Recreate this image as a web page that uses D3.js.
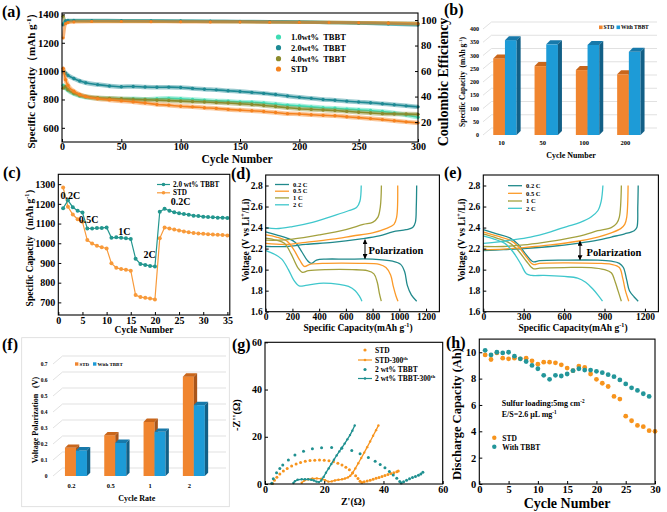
<!DOCTYPE html>
<html><head><meta charset="utf-8">
<script src="https://cdn.jsdelivr.net/npm/d3@7"></script>
<style>
body{margin:0;background:#fff}
svg{display:block}
text{font-family:"Liberation Serif","Times New Roman",serif;font-weight:bold}
</style></head>
<body><svg id="c" width="667" height="512"></svg>
<script>
// ================= DATA =================
// (a) long cycling
const cyclesA = [1,3,5,10,15,20,30,40,50,60,70,80,90,100,110,120,130,140,150,160,170,180,190,200,210,220,230,240,250,260,270,280,290,300];
const cap1wt = [900,880,865,840,825,815,808,805,803,805,802,805,808,805,800,795,790,787,782,780,775,768,760,755,748,742,738,732,728,722,715,705,690,675];
const cap2wt = [1000,985,970,948,930,918,905,895,890,892,888,886,887,884,878,872,868,862,856,850,843,835,825,815,808,800,795,788,782,777,770,763,755,748];
const cap4wt = [880,890,870,845,830,822,812,808,805,800,798,795,792,788,785,782,778,775,770,765,758,750,742,735,730,726,722,716,710,705,700,698,697,695];
const capSTD = [1020,940,900,858,835,820,805,797,790,783,775,765,760,752,748,742,737,730,725,720,715,708,700,698,692,688,685,678,672,665,658,650,642,635];
const cyclesCE = [1,3,5,10,25,50,75,100,125,150,175,200,225,250,275,300];
const ce1wt = [97,99,99.3,99.4,99.3,99.2,99.1,99.0,98.9,98.7,98.5,98.3,98.0,97.5,97.2,96.5];
const ce2wt = [96,99.5,99.8,99.8,99.7,99.6,99.5,99.4,99.2,99.0,98.8,98.5,98.0,97.5,96.8,96.0];
const ce4wt = [103,99,99.2,99.3,99.2,99.1,99.0,98.9,98.8,98.7,98.6,98.4,98.3,98.0,97.8,97.5];
const ceSTD = [86,97,98,98.5,98.8,98.8,98.7,98.6,98.5,98.5,98.3,98.2,98.0,97.8,97.5,97.0];
const legendA = ["1.0wt%  TBBT","2.0wt%  TBBT","4.0wt%  TBBT","STD"];

// (b) bars
const catB = ["10","50","100","200"];
const bSTD = [289,260,245,229];
const bTBBT = [358,342,340,314];

// (c) rate
const cyclesC = [1,2,3,4,5,6,7,8,9,10,11,12,13,14,15,16,17,18,19,20,21,22,23,24,25,26,27,28,29,30,31,32,33,34,35];
const cTBBT = [1178,1218,1183,1165,1156,1075,1075,1077,1078,1080,1028,1030,1028,1025,1022,922,895,890,885,882,1160,1175,1165,1158,1152,1148,1145,1140,1138,1135,1133,1132,1130,1130,1128];
const cSTD = [1283,1185,1146,1122,1109,1016,999,987,980,974,898,876,869,866,861,737,727,723,720,715,1025,1080,1075,1070,1065,1060,1056,1052,1050,1048,1046,1044,1043,1042,1040];
const rateLabels = [["0.2C",2.5,1225],["0.5C",6.3,1105],["1C",13.7,1040],["2C",18.9,925],["0.2C",25.3,1195]];

// (d) STD charge/discharge  [capacity, voltage]
const rates = ["0.2 C","0.5 C","1 C","2 C"];
const dDis02 = [[0,2.36],[80,2.33],[160,2.30],[220,2.26],[270,2.17],[310,2.09],[340,2.06],[380,2.09],[450,2.10],[600,2.10],[800,2.10],[950,2.08],[1010,2.05],[1040,1.98],[1060,1.85],[1090,1.76],[1130,1.70]];
const dChg02 = [[0,2.22],[150,2.22],[300,2.24],[500,2.26],[700,2.29],[850,2.32],[950,2.36],[1050,2.38],[1100,2.40],[1120,2.45],[1127,2.6],[1130,2.8]];
const dDis05 = [[0,2.33],[80,2.31],[160,2.27],[210,2.19],[255,2.09],[290,2.03],[330,2.05],[450,2.06],[700,2.06],[850,2.05],[900,2.02],[935,1.95],[955,1.84],[975,1.75],[990,1.70]];
const dChg05 = [[0,2.25],[150,2.24],[300,2.26],[500,2.29],[650,2.32],[800,2.35],[900,2.39],[960,2.43],[980,2.5],[988,2.8]];
const dDis1 = [[0,2.30],[80,2.28],[140,2.25],[190,2.15],[240,2.02],[275,1.975],[320,1.99],[450,2.00],[650,2.00],[760,1.99],[810,1.96],[835,1.88],[850,1.78],[865,1.70]];
const dChg1 = [[0,2.28],[100,2.28],[200,2.29],[400,2.33],[600,2.38],[730,2.43],[800,2.45],[840,2.50],[858,2.6],[866,2.8]];
const dDis2 = [[0,2.18],[60,2.15],[120,2.10],[170,2.00],[210,1.90],[250,1.845],[300,1.85],[400,1.87],[550,1.86],[620,1.84],[670,1.80],[700,1.75],[720,1.70]];
const dChg2 = [[0,2.40],[80,2.39],[200,2.41],[350,2.45],[500,2.51],[620,2.56],[680,2.59],[705,2.65],[715,2.8]];

// (e) TBBT charge/discharge
const eDis02 = [[0,2.38],[100,2.34],[200,2.30],[260,2.24],[320,2.14],[370,2.075],[420,2.085],[600,2.09],[850,2.09],[950,2.08],[1010,2.06],[1040,2.02],[1065,1.90],[1085,1.80],[1120,1.74],[1150,1.70]];
const eChg02 = [[0,2.18],[150,2.19],[300,2.20],[500,2.22],[700,2.25],[850,2.28],[950,2.31],[1050,2.34],[1120,2.37],[1140,2.40],[1147,2.6],[1150,2.8]];
const eDis05 = [[0,2.36],[100,2.32],[200,2.28],[260,2.22],[320,2.12],[370,2.05],[420,2.06],[600,2.065],[850,2.06],[950,2.05],[1010,2.02],[1035,1.92],[1055,1.80],[1080,1.70]];
const eChg05 = [[0,2.19],[150,2.195],[300,2.21],[500,2.235],[700,2.27],[850,2.31],[950,2.35],[1020,2.39],[1050,2.43],[1065,2.5],[1075,2.8]];
const eDis1 = [[0,2.34],[100,2.30],[200,2.25],[260,2.18],[320,2.08],[370,2.01],[420,2.015],[600,2.02],[800,2.02],[900,2.0],[950,1.97],[980,1.88],[1000,1.80],[1025,1.70]];
const eChg1 = [[0,2.22],[150,2.22],[300,2.235],[450,2.26],[600,2.29],[750,2.33],[850,2.37],[950,2.40],[990,2.44],[1010,2.5],[1025,2.8]];
const eDis2 = [[0,2.32],[80,2.29],[160,2.25],[220,2.17],[280,2.05],[320,1.96],[360,1.945],[450,1.945],[600,1.935],[700,1.92],[760,1.88],[810,1.82],[850,1.76],[885,1.70]];
const eChg2 = [[0,2.25],[80,2.26],[200,2.28],[350,2.31],[500,2.36],[620,2.41],[720,2.45],[800,2.50],[850,2.56],[875,2.65],[888,2.8]];

// (f) polarization bars
const catF = ["0.2","0.5","1","2"];
const fSTD = [0.176,0.255,0.338,0.621];
const fTBBT = [0.160,0.207,0.276,0.443];

// (g) EIS  [Z', -Z'']
const gSTD = [[2.6,0.2],[3.2,1.6],[4.0,2.9],[5.0,4.2],[6.2,5.5],[7.5,6.6],[9.0,7.6],[10.5,8.5],[12.0,9.1],[13.6,9.6],[15.2,9.9],[16.8,10.1],[18.4,10.2],[20.0,10.1],[21.6,9.8],[23.1,9.4],[24.6,8.8],[26.0,8.0],[27.3,7.1],[28.5,6.0],[29.6,4.8],[30.6,3.5],[31.4,2.3],[32.1,1.2],[32.7,0.6],[33.5,0.9],[34.5,1.3],[35.5,1.6],[36.5,2.0],[37.5,2.4],[38.5,2.8],[39.5,3.2],[40.5,3.6],[41.5,4.0],[42.5,4.4],[43.5,4.8],[44.5,5.2],[45.0,5.5]];
const gSTD300 = [[12.4,0.5],[13.3,1.5],[14.6,2.0],[16.0,2.3],[17.5,2.4],[19.0,2.2],[20.3,1.6],[21.4,1.0],[22.5,1.1],[23.6,1.5],[24.8,1.8],[26.0,2.0],[27.0,2.3],[28.0,2.8],[28.8,3.5],[29.5,4.5],[30.5,6.6],[31.5,8.8],[32.5,11.0],[33.5,13.3],[34.5,15.6],[35.5,18.0],[36.5,20.4],[37.5,22.8],[38.3,24.8]];
const gTBBT = [[2.3,0.3],[2.8,2.2],[3.9,4.8],[5.0,6.6],[6.0,8.0],[7.9,10.2],[10.1,12.3],[13.0,13.9],[16.0,14.9],[19.1,15.4],[22.5,15.5],[25.9,15.1],[29.3,14.2],[32.1,12.8],[34.9,11.2],[37.2,9.6],[38.9,8.3],[40.5,6.9],[42.0,5.3],[43.3,3.8],[44.5,2.4],[45.5,1.1],[46.0,0.4],[46.8,0.9],[47.8,1.6],[48.8,2.2],[49.8,2.7],[50.8,3.2],[51.8,3.7],[52.6,4.2],[53.3,5.0]];
const gTBBT300 = [[9.6,0.4],[10.1,1.2],[11.0,1.8],[12.4,2.0],[13.5,2.0],[14.6,2.0],[15.6,1.8],[16.5,1.5],[17.4,1.0],[18.2,0.8],[19.0,1.5],[19.8,3.0],[20.6,4.8],[21.5,6.6],[22.4,8.5],[23.3,10.3],[24.2,12.1],[25.1,13.8],[26.0,15.4],[26.9,17.1],[27.8,18.9],[28.7,20.7],[29.5,22.6],[30.3,24.8]];

// (h) pouch cell
const cyclesH = [1,2,3,4,5,6,7,8,9,10,11,12,13,14,15,16,17,18,19,20,21,22,23,24,25,26,27,28,29,30];
const hSTD = [9.8,9.45,9.95,9.55,9.5,9.55,9.5,9.55,9.35,9.1,9.25,9.25,9.2,9.05,8.8,8.6,8.95,8.85,8.35,7.95,7.65,7.4,6.65,6.45,5.15,4.8,4.45,4.35,4.05,4.0];
const hTBBT = [10.15,9.8,10.0,9.95,10.0,9.7,9.5,9.3,9.0,8.75,8.25,7.95,8.25,8.2,8.35,8.6,8.75,8.65,8.65,8.55,8.45,8.3,8.15,7.9,7.6,7.3,7.1,6.85,6.65];

// ================= DRAWING =================
const svg = d3.select("#c");
const defs = svg.append("defs");
defs.append("marker").attr("id","ah").attr("viewBox","0 0 10 10").attr("refX",9).attr("refY",5)
  .attr("markerWidth",5).attr("markerHeight",5).attr("orient","auto-start-reverse")
  .append("path").attr("d","M0,0 L10,5 L0,10 z").attr("fill","#000");

function txt(g, x, y, parts, size, o = {}) {
  const t = g.append("text").attr("x", x).attr("y", y).attr("font-size", size)
    .attr("text-anchor", o.anchor || "start").attr("fill", o.fill || "#000");
  if (o.rotate) t.attr("transform", `rotate(${o.rotate},${x},${y})`);
  if (typeof parts === "string") parts = [[parts]];
  let shift = 0;
  parts.forEach(p => {
    const ts = t.append("tspan").text(p[0]);
    if (p[1] === "sup") { ts.attr("dy", -size * 0.38 - shift).attr("font-size", size * 0.65); shift = -size * 0.38; }
    else { if (shift !== 0) ts.attr("dy", -shift); shift = 0; }
  });
  if (o.space) t.attr("xml:space", "preserve").style("white-space", "pre");
  return t;
}

function box(g, x, y, sw = 1.1) {
  const [x0, x1] = x.range(), [y0, y1] = y.range();
  g.append("rect").attr("x", x0).attr("y", y1).attr("width", x1 - x0).attr("height", y0 - y1)
    .attr("fill", "none").attr("stroke", "#000").attr("stroke-width", sw);
}
function styleAxis(a, fs) {
  a.select(".domain").remove();
  a.attr("font-family", null).attr("font-size", null);
  a.selectAll("line").attr("stroke", "#000").attr("stroke-width", 1);
  a.selectAll("text").attr("font-size", fs).attr("font-weight", "bold").attr("fill", "#000");
}
const TK = -3; // inward ticks
function axB(g, x, yPos, ticks, fmt, fs, pad = 2) {
  const a = g.append("g").attr("transform", `translate(0,${yPos})`)
    .call(d3.axisBottom(x).tickValues(ticks).tickFormat(fmt).tickSizeInner(TK).tickSizeOuter(0).tickPadding(pad));
  styleAxis(a, fs); return a;
}
function axL(g, y, xPos, ticks, fmt, fs, pad = 3) {
  const a = g.append("g").attr("transform", `translate(${xPos},0)`)
    .call(d3.axisLeft(y).tickValues(ticks).tickFormat(fmt).tickSizeInner(TK).tickSizeOuter(0).tickPadding(pad));
  styleAxis(a, fs); return a;
}
function axR(g, y, xPos, ticks, fmt, fs, pad = 3) {
  const a = g.append("g").attr("transform", `translate(${xPos},0)`)
    .call(d3.axisRight(y).tickValues(ticks).tickFormat(fmt).tickSizeInner(TK).tickSizeOuter(0).tickPadding(pad));
  styleAxis(a, fs); return a;
}
const fmtInt = d3.format("d");
const fmt1 = d3.format(".1f");

// ---------- (a) ----------
{
  const g = svg.append("g");
  const x = d3.scaleLinear([0, 300], [62, 418]);
  const y = d3.scaleLinear([500, 1410], [142, 13]);
  const yR = d3.scaleLinear([4.4, 105.5], [142, 13]);
  const cols = ["#3fdcb4", "#1e8a94", "#8b8b2c", "#f5821f"];
  const caps = [cap1wt, cap2wt, cap4wt, capSTD];
  const ces = [ce1wt, ce2wt, ce4wt, ceSTD];
  const order = [0, 2, 1, 3];
  order.forEach(k => {
    const ln = d3.line().x((d, i) => x(cyclesA[i])).y(d => y(d)).curve(d3.curveMonotoneX);
    g.append("path").attr("d", ln(caps[k])).attr("fill", "none").attr("stroke", cols[k]).attr("stroke-width", 4.5).attr("stroke-opacity", 0.45);
    g.append("path").attr("d", ln(caps[k])).attr("fill", "none").attr("stroke", cols[k]).attr("stroke-width", 1.6);
    g.selectAll(null).data(caps[k]).join("circle").attr("cx", (d, i) => x(cyclesA[i])).attr("cy", d => y(d)).attr("r", 1.7).attr("fill", cols[k]);
    const lc = d3.line().x((d, i) => x(cyclesCE[i])).y(d => yR(d)).curve(d3.curveMonotoneX);
    g.append("path").attr("d", lc(ces[k])).attr("fill", "none").attr("stroke", cols[k]).attr("stroke-width", 3.2).attr("stroke-opacity", 0.6);
    g.selectAll(null).data(ces[k]).join("circle").attr("cx", (d, i) => x(cyclesCE[i])).attr("cy", d => yR(d)).attr("r", 1.5).attr("fill", cols[k]);
  });
  box(g, x, y);
  axB(g, x, 142, [0, 50, 100, 150, 200, 250, 300], fmtInt, 10, 1);
  axL(g, y, 62, [600, 800, 1000, 1200, 1400], fmtInt, 10.5);
  axR(g, yR, 418, [20, 40, 60, 80, 100], fmtInt, 10.5);
  txt(g, 237, 163, "Cycle Number", 11.5, { anchor: "middle" });
  txt(g, 35, 78, [["Specific Capacity（mAh g"], ["-1", "sup"], ["）"]], 11, { anchor: "middle", rotate: -90 });
  txt(g, 448, 82, "Coulombic Efficiency", 14, { anchor: "middle", rotate: -90 });
  legendA.forEach((s, i) => {
    const yy = [37, 47.7, 58.7, 69][i];
    g.append("circle").attr("cx", 278.5).attr("cy", yy).attr("r", 2.6).attr("fill", cols[i]);
    txt(g, 291, yy + 3, s, 8.5, { space: true });
  });
  txt(g, 2, 17, "(a)", 16);
}

// ---------- (b) ----------
function bars3d(g, xb, y, vals, left, w, dep, cf, ct, cs) {
  vals.forEach((v, i) => {
    const c = xb(i) + xb.bandwidth() / 2;
    const x0 = left ? c - w : c, yv = y(v), y0 = y(0);
    g.append("rect").attr("x", x0).attr("y", yv).attr("width", w).attr("height", y0 - yv).attr("fill", cf);
    g.append("path").attr("d", `M${x0},${yv}L${x0 + dep},${yv - dep}L${x0 + w + dep},${yv - dep}L${x0 + w},${yv}Z`).attr("fill", ct);
    g.append("path").attr("d", `M${x0 + w},${yv}L${x0 + w + dep},${yv - dep}L${x0 + w + dep},${y0 - dep}L${x0 + w},${y0}Z`).attr("fill", cs);
  });
}
function grid3d(g, y, ticks, xs, dx, dy, xe) {
  ticks.forEach(v => {
    g.append("path").attr("d", `M${xs},${y(v)}L${xs + dx},${y(v) - dy}L${xe},${y(v) - dy}`)
      .attr("fill", "none").attr("stroke", "#d9d9d9").attr("stroke-width", 0.8);
  });
}
const OR = ["#f0852f", "#c9661b", "#a9551a"];
const BL = ["#1d9bd7", "#1779aa", "#125f86"];
{
  const g = svg.append("g");
  const y = d3.scaleLinear([0, 400], [135, 29]);
  const xb = d3.scaleBand(d3.range(catB.length), [484.3, 649.5]);
  grid3d(g, y, [0, 50, 100, 150, 200, 250, 300, 350, 400], 483, 8.5, 7, 657);
  bars3d(g, xb, y, bSTD, true, 11.7, 4, OR[0], OR[1], OR[2]);
  bars3d(g, xb, y, bTBBT, false, 11.7, 4, BL[0], BL[1], BL[2]);
  [0, 50, 100, 150, 200, 250, 300, 350, 400].forEach(v => txt(g, 479, y(v) + 2, String(v), 6, { anchor: "end" }));
  catB.forEach((s, i) => txt(g, xb(i) + xb.bandwidth() / 2 - 3.5, 145, s, 6.5, { anchor: "middle" }));
  txt(g, 571, 158, "Cycle Number", 8, { anchor: "middle" });
  txt(g, 465, 82, [["Specific Capacity  (mAh g"], ["-1", "sup"], [")"]], 7.5, { anchor: "middle", rotate: -90, space: true });
  g.append("rect").attr("x", 599).attr("y", 25.5).attr("width", 3.6).attr("height", 3.6).attr("fill", OR[0]);
  txt(g, 603.5, 29.2, "STD", 5.5);
  g.append("rect").attr("x", 616.5).attr("y", 25.5).attr("width", 3.6).attr("height", 3.6).attr("fill", BL[0]);
  txt(g, 621, 29.2, "With TBBT", 5.5);
  txt(g, 444, 15, "(b)", 16);
}

// ---------- (c) ----------
{
  const g = svg.append("g");
  const x = d3.scaleLinear([0, 35.5], [58.3, 229.8]);
  const y = d3.scaleLinear([636, 1350], [315, 174.3]);
  const cT = "#23968e", cS = "#f89a3a";
  [[cSTD, cS], [cTBBT, cT]].forEach(([arr, col]) => {
    const ln = d3.line().x((d, i) => x(cyclesC[i])).y(d => y(d));
    g.append("path").attr("d", ln(arr)).attr("fill", "none").attr("stroke", col).attr("stroke-width", 1.2);
    g.selectAll(null).data(arr).join("circle").attr("cx", (d, i) => x(cyclesC[i])).attr("cy", d => y(d)).attr("r", 2).attr("fill", col);
  });
  box(g, x, y);
  axB(g, x, 315, [0, 5, 10, 15, 20, 25, 30, 35], fmtInt, 10, 2);
  axL(g, y, 58.3, [700, 800, 900, 1000, 1100, 1200, 1300], fmtInt, 10);
  rateLabels.forEach(r => txt(g, x(r[1]), y(r[2]), r[0], 10, { anchor: "middle" }));
  txt(g, 144, 333, "Cycle Number", 9.5, { anchor: "middle" });
  txt(g, 33, 245, [["Specific Capacity（mAh g"], ["-1", "sup"], ["）"]], 9.5, { anchor: "middle", rotate: -90 });
  [["2.0 wt% TBBT", cT, 184.5], ["STD", cS, 192.8]].forEach(([s, col, yy]) => {
    g.append("line").attr("x1", 157).attr("x2", 170).attr("y1", yy).attr("y2", yy).attr("stroke", col).attr("stroke-width", 1.2);
    g.append("circle").attr("cx", 163.5).attr("cy", yy).attr("r", 1.8).attr("fill", col);
    txt(g, 173, yy + 2.5, s, 7.2);
  });
  txt(g, 3, 178, "(c)", 16);
}

// ---------- (d) & (e) ----------
const rateCols = ["#20898b", "#fb9a29", "#a3a13e", "#3fc7cc"];
function gcd(g, x, y, curves, legX, legY, arrowX, arrowY, polX, polY, yTitleX, xTitleX) {
  const ln = d3.line().x(d => x(d[0])).y(d => y(d[1])).curve(d3.curveCatmullRom.alpha(0.5));
  curves.forEach((pair, k) => pair.forEach(c => g.append("path").attr("d", ln(c)).attr("fill", "none").attr("stroke", rateCols[k]).attr("stroke-width", 1.3)));
  box(g, x, y);
  axL(g, y, x.range()[0], [1.6, 1.8, 2.0, 2.2, 2.4, 2.6, 2.8], fmt1, 9.5);
  rates.forEach((s, i) => {
    g.append("line").attr("x1", legX).attr("x2", legX + 14).attr("y1", legY[i]).attr("y2", legY[i]).attr("stroke", rateCols[i]).attr("stroke-width", 1.3);
    txt(g, legX + 18, legY[i] + 2.2, s, 6.5);
  });
  g.append("line").attr("x1", arrowX).attr("x2", arrowX).attr("y1", y(arrowY[0])).attr("y2", y(arrowY[1]))
    .attr("stroke", "#000").attr("stroke-width", 1).attr("marker-start", "url(#ah)").attr("marker-end", "url(#ah)");
  txt(g, polX, polY, "Polarization", 10.5);
  txt(g, xTitleX, 331, [["Specific Capacity(mAh g"], ["-1", "sup"], [")"]], 9.5, { anchor: "middle" });
  txt(g, yTitleX, 240, [["Voltage (V vs Li"], ["+", "sup"], ["/Li)"]], 9.5, { anchor: "middle", rotate: -90 });
}
{
  const g = svg.append("g");
  const x = d3.scaleLinear([0, 1300], [265.7, 439.4]);
  const y = d3.scaleLinear([1.6, 2.9], [311.7, 175]);
  gcd(g, x, y, [[dDis02, dChg02], [dDis05, dChg05], [dDis1, dChg1], [dDis2, dChg2]],
    275, [184.5, 191.2, 197.9, 204.8], 365, [2.285, 2.105], 368.5, 253.5, 249, 358);
  axB(g, x, 311.7, [0, 200, 400, 600, 800, 1000, 1200], fmtInt, 9.5, 2);
  txt(g, 231, 179, "(d)", 16);
}
{
  const g = svg.append("g");
  const x = d3.scaleLinear([0, 1300], [483.3, 658.4]);
  const y = d3.scaleLinear([1.6, 2.9], [311.7, 175]);
  gcd(g, x, y, [[eDis02, eChg02], [eDis05, eChg05], [eDis1, eChg1], [eDis2, eChg2]],
    508, [185.7, 193.3, 201, 208.3], 580, [2.27, 2.095], 586.5, 256, 465, 573);
  axB(g, x, 311.7, [0, 300, 600, 900, 1200], fmtInt, 9.5, 2);
  txt(g, 444, 178, "(e)", 16);
}

// ---------- (f) ----------
{
  const g = svg.append("g");
  g.append("rect").attr("x", 21.7).attr("y", 337.7).attr("width", 207.6).attr("height", 169).attr("fill", "none").attr("stroke", "#d9d9d9").attr("stroke-width", 0.8);
  const y = d3.scaleLinear([0, 0.7], [476, 364]);
  const xb = d3.scaleBand(d3.range(catF.length), [56.3, 213.5]);
  const tk = [0, 0.1, 0.2, 0.3, 0.4, 0.5, 0.6, 0.7];
  grid3d(g, y, tk, 53, 9.5, 8, 226);
  bars3d(g, xb, y, fSTD, true, 11, 3.3, OR[0], OR[1], OR[2]);
  bars3d(g, xb, y, fTBBT, false, 11, 3.3, BL[0], BL[1], BL[2]);
  tk.forEach(v => txt(g, 47.5, y(v) + 2, v === 0 ? "0" : fmt1(v), 5.5, { anchor: "end" }));
  catF.forEach((s, i) => txt(g, xb(i) + xb.bandwidth() / 2 - 4.5, 488, s, 6.5, { anchor: "middle" }));
  txt(g, 136.7, 501, "Cycle Rate", 8, { anchor: "middle" });
  txt(g, 37.5, 420, "Voltage Polarization   (V)", 8, { anchor: "middle", rotate: -90, space: true });
  g.append("rect").attr("x", 75).attr("y", 362.3).attr("width", 3.4).attr("height", 3.4).attr("fill", OR[0]);
  txt(g, 79.5, 365.8, "STD", 5);
  g.append("rect").attr("x", 93).attr("y", 362.3).attr("width", 3.4).attr("height", 3.4).attr("fill", BL[0]);
  txt(g, 97.5, 365.8, "With TBBT", 5);
  txt(g, 2, 350, "(f)", 16);
}

// ---------- (g) ----------
{
  const g = svg.append("g");
  const x = d3.scaleLinear([0, 60], [265, 442.7]);
  const y = d3.scaleLinear([0, 60], [484, 342.3]);
  const cS = "#f7941d", cT = "#1f9090";
  const ln = d3.line().x(d => x(d[0])).y(d => y(d[1]));
  g.selectAll(null).data(gSTD).join("circle").attr("cx", d => x(d[0])).attr("cy", d => y(d[1])).attr("r", 1.5).attr("fill", cS);
  g.selectAll(null).data(gTBBT).join("circle").attr("cx", d => x(d[0])).attr("cy", d => y(d[1])).attr("r", 1.5).attr("fill", cT);
  [[gSTD300, cS], [gTBBT300, cT]].forEach(([arr, col]) => {
    g.append("path").attr("d", ln(arr)).attr("fill", "none").attr("stroke", col).attr("stroke-width", 1.3);
    g.selectAll(null).data(arr).join("circle").attr("cx", d => x(d[0])).attr("cy", d => y(d[1])).attr("r", 1.2).attr("fill", col);
  });
  box(g, x, y);
  axB(g, x, 484, [0, 20, 40, 60], fmtInt, 10, 2);
  axL(g, y, 265, [0, 20, 40, 60], fmtInt, 10);
  txt(g, 353, 505, "Z'(Ω)", 10, { anchor: "middle" });
  txt(g, 240, 415, "-Z''(Ω)", 10.5, { anchor: "middle", rotate: -90 });
  const leg = [["STD", cS, "dot"], [[["STD-300"], ["th", "sup"]], cS, "line"], ["2 wt% TBBT", cT, "dot"], [[["2 wt% TBBT-300"], ["th", "sup"]], cT, "line"]];
  leg.forEach(([s, col, t], i) => {
    const yy = [350, 360, 369.5, 378.5][i];
    if (t === "dot") g.append("circle").attr("cx", 365).attr("cy", yy).attr("r", 1.6).attr("fill", col);
    else {
      g.append("line").attr("x1", 358).attr("x2", 372).attr("y1", yy).attr("y2", yy).attr("stroke", col).attr("stroke-width", 1.2);
      g.append("circle").attr("cx", 365).attr("cy", yy).attr("r", 1.3).attr("fill", col);
    }
    txt(g, 375, yy + 2.6, s, 7.5);
  });
  txt(g, 232, 350, "(g)", 16);
}

// ---------- (h) ----------
{
  const g = svg.append("g");
  const x = d3.scaleLinear([0, 30], [479.3, 655]);
  const y = d3.scaleLinear([0, 11], [484, 339.1]);
  const cS = "#f7941d", cT = "#23969a";
  g.selectAll(null).data(hSTD).join("circle").attr("cx", (d, i) => x(cyclesH[i])).attr("cy", d => y(d)).attr("r", 2.4).attr("fill", cS);
  g.selectAll(null).data(hTBBT).join("circle").attr("cx", (d, i) => x(cyclesH[i])).attr("cy", d => y(d)).attr("r", 2.4).attr("fill", cT);
  box(g, x, y);
  axB(g, x, 484, [0, 5, 10, 15, 20, 25, 30], fmtInt, 10.5, 2);
  axL(g, y, 479.3, [0, 2, 4, 6, 8, 10], fmtInt, 10.5);
  txt(g, 567, 507.5, "Cycle Number", 14, { anchor: "middle" });
  txt(g, 461, 414, "Discharge Capacity (Ah)", 12.5, { anchor: "middle", rotate: -90 });
  txt(g, 501.7, 406, [["Sulfur loading:5mg cm"], ["-2", "sup"]], 8);
  txt(g, 501.7, 417, [["E/S=2.6 μL mg"], ["-1", "sup"]], 8);
  g.append("circle").attr("cx", 494.3).attr("cy", 437.7).attr("r", 2.2).attr("fill", cS);
  txt(g, 502.3, 440.5, "STD", 7.5);
  g.append("circle").attr("cx", 494.3).attr("cy", 446.7).attr("r", 2.2).attr("fill", cT);
  txt(g, 502.3, 449.5, "With TBBT", 7.5);
  txt(g, 446, 348, "(h)", 16);
}
</script></body></html>
